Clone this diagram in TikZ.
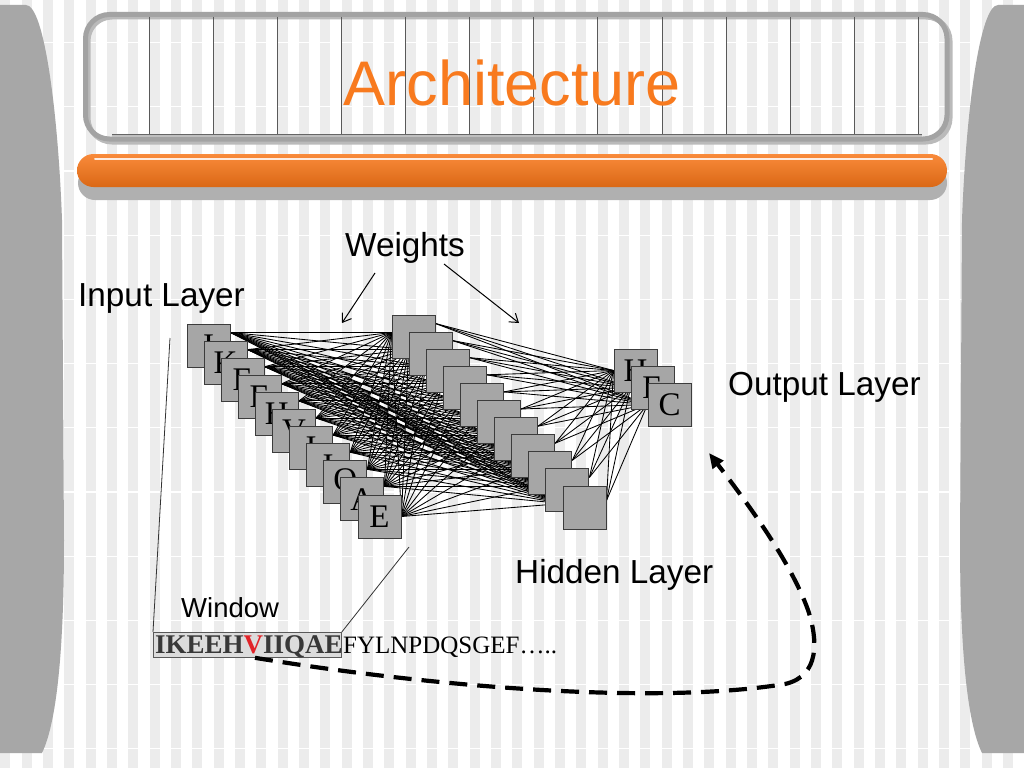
\documentclass[tikz,border=0pt]{standalone}
\usepackage{fontspec}
\setmainfont{Liberation Serif}
\newfontfamily\arialfont{Liberation Sans}
\usepackage{tikz}
\usetikzlibrary{arrows.meta,backgrounds}
\definecolor{titleorange}{RGB}{248,122,30}
\definecolor{barorange}{RGB}{248,118,24}
\definecolor{stripegray}{RGB}{236,236,236}
\definecolor{sidegray}{RGB}{167,167,167}
\definecolor{unitgray}{RGB}{166,166,166}
\definecolor{edgegray}{RGB}{60,60,60}
\definecolor{framegray}{RGB}{163,163,163}
\definecolor{windowgray}{RGB}{220,220,220}
\definecolor{seqdark}{RGB}{56,56,56}
\definecolor{seqred}{RGB}{225,35,40}

\begin{document}
\begin{tikzpicture}[x=1pt, y=-1pt, >=Stealth,
  unit/.style={draw=edgegray, fill=unitgray, line width=1pt, minimum size=43pt,
               inner sep=0pt, font=\fontsize{33}{33}\selectfont},
  layerlabel/.style={anchor=base west, inner sep=0pt, font=\arialfont\fontsize{33.3}{36}\selectfont},
  wire/.style={line width=0.85pt, black},
  pointer/.style={line width=1pt, -{Straight Barb[length=8pt,width=11pt]}}]
  \useasboundingbox (0,0) rectangle (1024,768);
  % slide backdrop
  \begin{scope}[on background layer]
    \fill[white] (0,0) rectangle (1024,768);
    \foreach \k in {0,...,47}
      \fill[stripegray] ({0.3+21.333*\k},0) rectangle ({10.3+21.333*\k},768);
    \foreach \k in {0,...,11}
      \draw[white, line width=1.2pt] (0,{42.5+64.2*\k}) -- (1024,{42.5+64.2*\k});
  \end{scope}
  \fill[sidegray] (0,5) -- (26,5) .. controls (44,5) and (58,110) .. (62,220) -- (64,540)
    .. controls (64,640) and (58,720) .. (42,753) -- (0,753) -- cycle;
  \fill[sidegray] (1024,5) -- (998,5) .. controls (980,5) and (966,110) .. (962,220) -- (960,540)
    .. controls (960,640) and (966,720) .. (982,753) -- (1024,753) -- cycle;
  % title frame
  \draw[framegray!75, line width=5pt, rounded corners=24pt] (88,17) rectangle (950,142);
  \draw[framegray, line width=5pt, rounded corners=24pt] (85.5,14.5) rectangle (947,139);
  \foreach \k in {0,...,12}
    \draw[black!65, line width=0.6pt] ({149+64.1*\k},17) -- ({149+64.1*\k},134);
  \draw[black!60, line width=0.8pt] (112,134) -- (922,134);
  \draw[black!25, line width=1.6pt] (112,136) -- (922,136);
  \node[anchor=base, inner sep=0pt, text=titleorange, font=\arialfont\fontsize{63}{70}\selectfont]
    (title) at (512,105) {Architecture};
  % orange bar
  \fill[sidegray!90, rounded corners=17pt] (78,166) rectangle (947,200);
  \shade[rounded corners=16.5pt, top color=barorange!85!white, middle color=barorange,
         bottom color=barorange!88!black] (77,154) rectangle (947,187);
  \draw[white, line width=2pt, line cap=round, opacity=0.85] (95,159) -- (932,159);

  % network units
  \foreach \letter [count=\i] in {I,K,E,E,H,V,I,I,Q,A,E}
    \node[unit] (in-\i) at ({208.5+17.1*(\i-1)},{345.5+17.1*(\i-1)}) {\letter};
  \foreach \j in {1,...,11}
    \node[unit] (hid-\j) at ({413.5+17.1*(\j-1)},{336.5+17.1*(\j-1)}) {};
  \foreach \letter [count=\k] in {H,E,C}
    \node[unit] (out-\k) at ({635.5+17*(\k-1)},{370.5+17*(\k-1)}) {\letter};

  % wire ends
  \foreach \i in {1,...,10} {
    \coordinate (isrc-\i) at ([yshift=-9pt]in-\i.north east);
    \coordinate (hsrc-\i) at ([yshift=-9pt]hid-\i.north east);
  }
  \coordinate (isrc-11) at (in-11.east);
  \coordinate (hsrc-11) at ([yshift=-15pt]hid-11.north east);
  \foreach \j in {1,...,11}
    \coordinate (hdst-\j) at ([yshift=-18pt]hid-\j.north west);

  % weights
  \begin{scope}[on background layer]
    \foreach \i in {1,...,11}
      \foreach \j in {1,...,11}
        \draw[wire] (isrc-\i) -- (hdst-\j);
    \foreach \j in {1,...,11}
      \foreach \k in {1,2,3}
        \draw[wire] (hsrc-\j) -- (out-\k.west);
  \end{scope}

  % labels
  \node[layerlabel] (inlabel) at (78,306) {Input Layer};
  \node[layerlabel] (weights) at (345,256) {Weights};
  \node[layerlabel] (outlabel) at (728,395) {Output Layer};
  \node[layerlabel] (hidlabel) at (515,583) {Hidden Layer};
  \node[layerlabel, font=\arialfont\fontsize{27.5}{30}\selectfont] (winlabel) at (181,617) {Window};

  \coordinate (wt-left) at (342,323);
  \coordinate (wt-right) at (519,323);
  \draw[pointer] ([xshift=30pt,yshift=-17pt]weights.base west) -- (wt-left);
  \draw[pointer] ([xshift=99pt,yshift=-8pt]weights.base west) -- (wt-right);

  % sequence and window
  \node[draw=black!65, fill=windowgray, line width=0.8pt, minimum width=188pt, minimum height=25pt,
        inner sep=0pt, anchor=north west] (seqbox) at (153,632) {};
  \node[anchor=base west, inner sep=0pt, text=seqdark, font=\bfseries\fontsize{27}{28}\selectfont]
    (seqwin) at (155,653) {IKEEH\textcolor{seqred}{V}IIQAE};
  \node[anchor=base west, inner sep=0pt, font=\fontsize{25}{28}\selectfont]
    (seqrest) at (seqwin.base east) {FYLNPDQSGEF…..};

  \coordinate (win-in) at (170,338);
  \coordinate (win-out) at (409,547);
  \draw[black!80, line width=0.8pt] (seqbox.north west) -- (win-in);
  \draw[black!80, line width=0.8pt] (seqbox.north east) -- (win-out);

  \coordinate (loop-start) at ([xshift=102pt]seqbox.south west);
  \coordinate (loop-end) at (709,453);
  \draw[line width=4.2pt, dash pattern=on 18pt off 10pt, -{Triangle[length=15pt,width=13pt]}]
    (loop-start) .. controls (420,685) and (650,706) .. (785,684)
    .. controls (820,676) and (818,640) .. (808,610)
    .. controls (790,560) and (745,500) .. (loop-end);
\end{tikzpicture}
\end{document}
